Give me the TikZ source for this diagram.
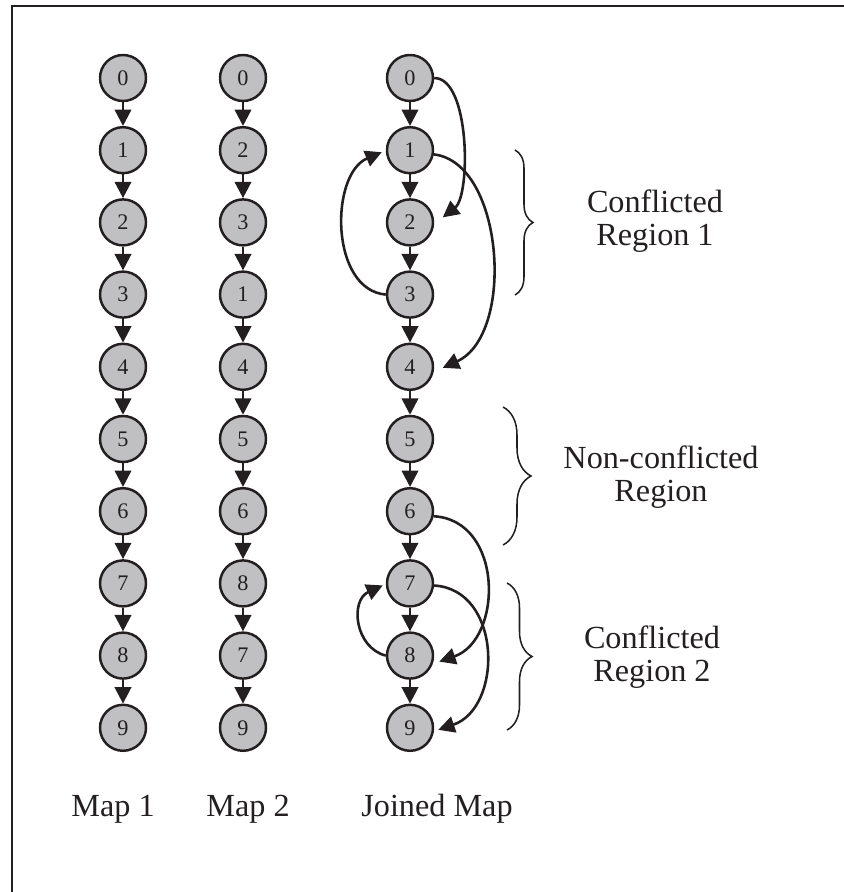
\documentclass[tikz,border=0pt]{standalone}
\usepackage{fontspec}
\setmainfont{Liberation Serif}
\usetikzlibrary{arrows.meta,decorations.pathreplacing}
\definecolor{ink}{RGB}{35,31,32}
\definecolor{nodefill}{RGB}{192,192,194}
\begin{document}
\begin{tikzpicture}[x=0.03cm,y=-0.03cm,
  vtx/.style={circle,draw=ink,fill=nodefill,line width=2.1pt,minimum size=1.38cm,
              inner sep=0pt,font=\fontsize{19}{19}\selectfont,text=ink},
  arr/.style={draw=ink,line width=2.2pt,-{Triangle[length=14pt,width=14pt]}},
  lbl/.style={font=\fontsize{27.5}{28}\selectfont,text=ink,align=center,anchor=base,inner sep=0pt},
  brc/.style={draw=ink,line width=1.3pt,decorate,decoration={brace,amplitude=#1}}]

\useasboundingbox (0,0) rectangle (844,892);
\clip (0,0) rectangle (844,892);

% outer frame
\draw[draw=ink,line width=1.9pt] (12,6) rectangle (880,930);

% Map 1
\foreach \i in {0,...,9}
  \node[vtx] (a\i) at (123,{78+72.2*\i}) {\i};
% Map 2
\foreach \lab [count=\i from 0] in {0,2,3,1,4,5,6,8,7,9}
  \node[vtx] (b\i) at (243,{78+72.2*\i}) {\lab};
% Joined map
\foreach \i in {0,...,9}
  \node[vtx] (c\i) at (410,{78+72.2*\i}) {\i};

% sequential links
\foreach \i [evaluate=\i as \j using int(\i+1)] in {0,...,8} {
  \draw[arr] (a\i) -- (a\j);
  \draw[arr] (b\i) -- (b\j);
  \draw[arr] (c\i) -- (c\j);
}

% extra links of the joined map
\coordinate (t2) at ([shift={(8.5,-5)}]c2.east);
\coordinate (t4) at ([shift={(8.5,1)}]c4.east);
\coordinate (t1) at ([shift={(-4,2)}]c1.west);
\coordinate (t8) at ([shift={(5,6)}]c8.east);
\coordinate (t9) at ([shift={(4,2)}]c9.east);
\coordinate (t7) at ([shift={(-3,2)}]c7.west);

\draw[arr] (c0.east) .. controls +(36,0) and +(28,-22) .. (t2);
\draw[arr] (c1.-10) .. controls +(70,8) and +(73,-33) .. (t4);
\draw[arr] (c3.west) .. controls +(-56,-5) and +(-52,22) .. (t1);
\draw[arr] (c6.-12) .. controls +(70,4) and +(64,-22) .. (t8);
\draw[arr] (c7.-5) .. controls +(68,4) and +(65,-22) .. (t9);
\draw[arr] (c8.west) .. controls +(-31,-8) and +(-33,15) .. (t7);

% region braces
\draw[brc=0.54cm] (515,150) -- (515,295);
\draw[brc=0.84cm] (503,407) -- (503,545);
\draw[brc=0.75cm] (507,583) -- (507,730);

% region labels (anchored at the baseline of the second line)
\node[lbl] (r1) at (655,245) {Conflicted\\Region 1};
\node[lbl] (r0) at (661,501) {Non-conflicted\\Region};
\node[lbl] (r2) at (652,681) {Conflicted\\Region 2};

% map captions
\node[lbl] (m1) at (113,816) {Map 1};
\node[lbl] (m2) at (248,816) {Map 2};
\node[lbl] (m3) at (437,816) {Joined Map};
\end{tikzpicture}
\end{document}
